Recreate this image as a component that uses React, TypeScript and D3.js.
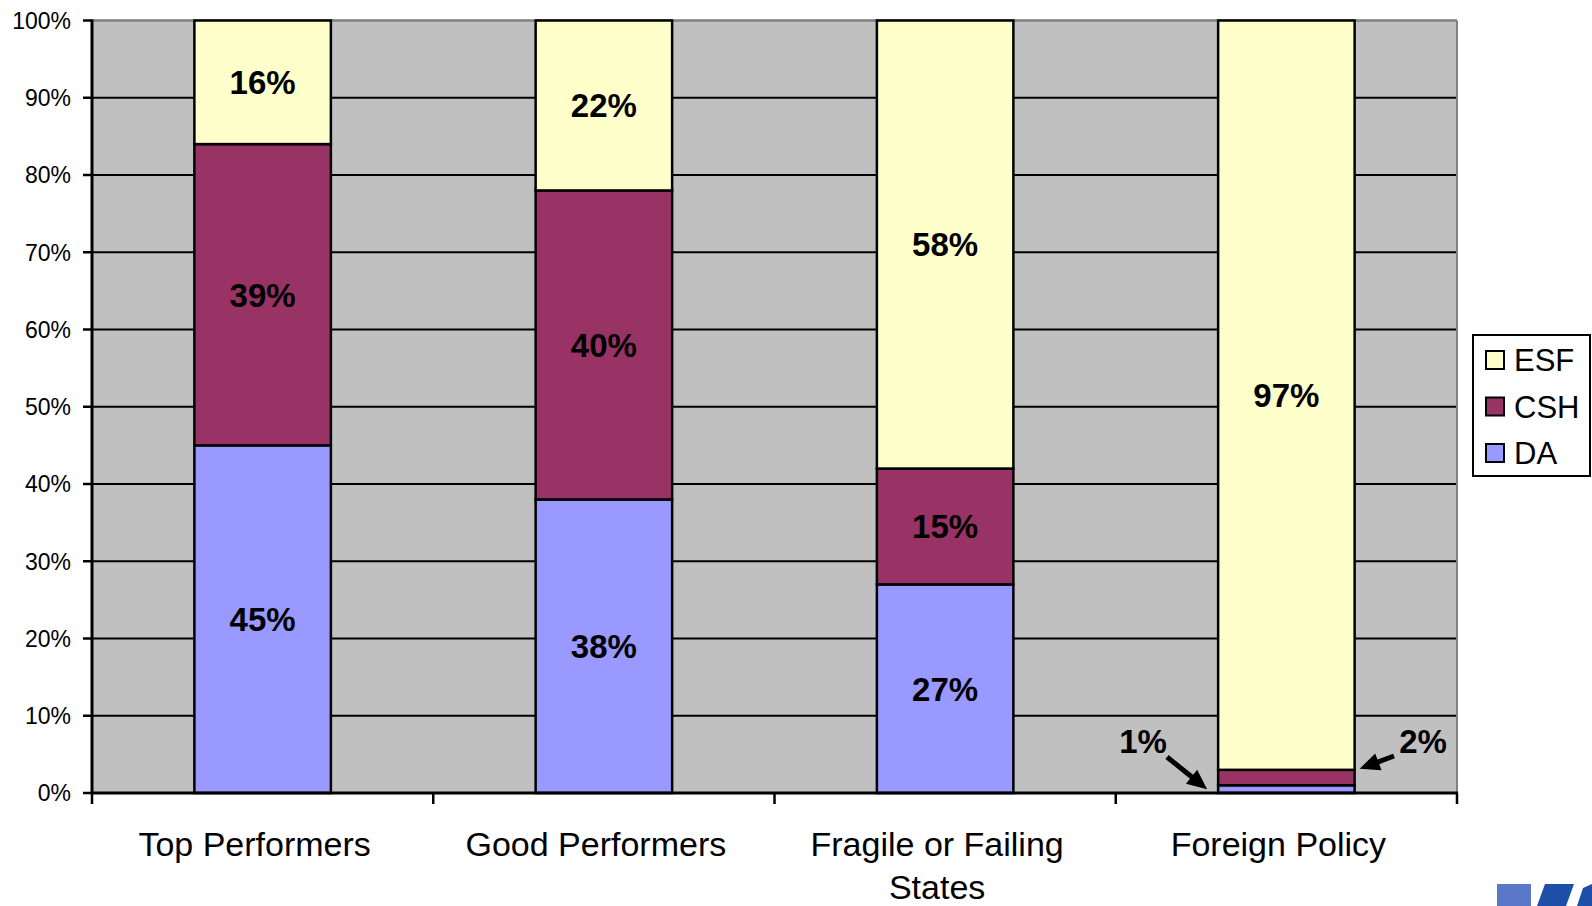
import React from "react";
import * as d3 from "d3";

// Share of funding by account, per country category (percent)
const categories = ["Top Performers", "Good Performers", "Fragile or Failing States", "Foreign Policy"];
const categoryLines: string[][] = [["Top Performers"], ["Good Performers"], ["Fragile or Failing", "States"], ["Foreign Policy"]];
const seriesKeys = ["DA", "CSH", "ESF"];
const daValues = [45, 38, 27, 1];
const cshValues = [39, 40, 15, 2];
const esfValues = [16, 22, 58, 97];
const yTicks = [0, 10, 20, 30, 40, 50, 60, 70, 80, 90, 100];
const legendOrder = ["ESF", "CSH", "DA"];

const colors: Record<string, string> = {
  DA: "#9999FF",
  CSH: "#993366",
  ESF: "#FFFFCC",
};

const W = 1592;
const H = 906;
const plot = { left: 92, right: 1457, top: 20.5, bottom: 793 };
const FONT = "'Liberation Sans', Arial, Helvetica, sans-serif";

type Row = { category: string; DA: number; CSH: number; ESF: number };

export default function App() {
  const rows: Row[] = categories.map((c, i) => ({
    category: c,
    DA: daValues[i],
    CSH: cshValues[i],
    ESF: esfValues[i],
  }));

  const x = d3
    .scaleBand<string>()
    .domain(categories)
    .range([plot.left, plot.right])
    .paddingInner(0.6)
    .paddingOuter(0.3);
  const y = d3.scaleLinear().domain([0, 100]).range([plot.bottom, plot.top]);

  const stacked = d3.stack<Row>().keys(seriesKeys)(rows);
  const step = x.step();
  const bw = x.bandwidth();

  // Small segments of the last bar get callout labels with arrows
  const fpIdx = 3;
  const fpX = x(categories[fpIdx])!;
  const daTop = stacked[0][fpIdx][1];
  const cshTop = stacked[1][fpIdx][1];

  const arrow = (x1: number, y1: number, x2: number, y2: number) => {
    const ang = Math.atan2(y2 - y1, x2 - x1);
    const len = 20;
    const half = 9;
    const bx = x2 - len * Math.cos(ang);
    const by = y2 - len * Math.sin(ang);
    const px = -Math.sin(ang) * half;
    const py = Math.cos(ang) * half;
    return (
      <g>
        <line x1={x1} y1={y1} x2={bx + 2 * Math.cos(ang)} y2={by + 2 * Math.sin(ang)} stroke="#000" strokeWidth={5} />
        <polygon points={`${x2},${y2} ${bx + px},${by + py} ${bx - px},${by - py}`} fill="#000" />
      </g>
    );
  };

  return (
    <svg
      width={W}
      height={H}
      style={{ position: "absolute", left: 0, top: 0, background: "#fff" }}
      fontFamily={FONT}
    >
      {/* plot background */}
      <rect x={plot.left} y={plot.top} width={plot.right - plot.left} height={plot.bottom - plot.top} fill="#C0C0C0" />

      {/* gridlines */}
      {yTicks.slice(1, -1).map((t) => (
        <line key={t} x1={plot.left} x2={plot.right} y1={y(t)} y2={y(t)} stroke="#000" strokeWidth={2} />
      ))}
      <line x1={plot.left} x2={plot.right} y1={y(100)} y2={y(100)} stroke="#808080" strokeWidth={2.5} />
      <line x1={plot.right} x2={plot.right} y1={plot.top} y2={plot.bottom} stroke="#808080" strokeWidth={2} />

      {/* stacked bars */}
      {stacked.map((layer) =>
        layer.map((d, i) => (
          <rect
            key={layer.key + i}
            x={x(categories[i])!}
            y={y(d[1])}
            width={bw}
            height={y(d[0]) - y(d[1])}
            fill={colors[layer.key]}
            stroke="#000"
            strokeWidth={2.5}
          />
        ))
      )}

      {/* segment labels */}
      {stacked.map((layer) =>
        layer.map((d, i) => {
          const v = d[1] - d[0];
          if (v < 5) return null;
          return (
            <text
              key={"l" + layer.key + i}
              x={x(categories[i])! + bw / 2}
              y={y((d[0] + d[1]) / 2)}
              dy="0.36em"
              textAnchor="middle"
              fontWeight="bold"
              fontSize={33}
              fill="#000"
            >
              {`${Math.round(v)}%`}
            </text>
          );
        })
      )}

      {/* callouts for thin segments */}
      <text x={1143} y={753} textAnchor="middle" fontWeight="bold" fontSize={33}>
        {`${daValues[fpIdx]}%`}
      </text>
      {arrow(1167, 757, fpX - 11, y(daTop) + 4)}
      <text x={1423} y={753} textAnchor="middle" fontWeight="bold" fontSize={33}>
        {`${cshValues[fpIdx]}%`}
      </text>
      {arrow(1394, 756, fpX + bw + 5, y(cshTop) - 1)}

      {/* y axis */}
      <line x1={plot.left} x2={plot.left} y1={plot.top - 1} y2={plot.bottom} stroke="#000" strokeWidth={3} />
      {yTicks.map((t) => (
        <g key={"t" + t}>
          <line x1={plot.left - 9} x2={plot.left} y1={y(t)} y2={y(t)} stroke="#000" strokeWidth={2.5} />
          <text x={71} y={y(t)} dy="0.36em" textAnchor="end" fontSize={23} fill="#000">
            {`${t}%`}
          </text>
        </g>
      ))}

      {/* x axis */}
      <line x1={plot.left - 1} x2={plot.right + 1} y1={plot.bottom} y2={plot.bottom} stroke="#000" strokeWidth={3} />
      {d3.range(categories.length + 1).map((k) => (
        <line
          key={"xt" + k}
          x1={plot.left + k * step}
          x2={plot.left + k * step}
          y1={plot.bottom}
          y2={plot.bottom + 11}
          stroke="#000"
          strokeWidth={2.5}
        />
      ))}
      {categories.map((c, i) =>
        categoryLines[i].map((line, j) => (
          <text
            key={c + j}
            x={x(c)! + bw / 2 - 8}
            y={856 + j * 43}
            textAnchor="middle"
            fontSize={34}
            fill="#000"
          >
            {line}
          </text>
        ))
      )}

      {/* legend */}
      <rect x={1473} y={335} width={117} height={141} fill="#fff" stroke="#000" strokeWidth={2} />
      {legendOrder.map((k, i) => {
        const cy = 360 + i * 46.5;
        return (
          <g key={"lg" + k}>
            <rect x={1486} y={cy - 9} width={18} height={18} fill={colors[k]} stroke="#000" strokeWidth={2} />
            <text x={1514} y={cy} dy="0.36em" fontSize={31} fill="#000">
              {k}
            </text>
          </g>
        );
      })}

      {/* corner logo fragment */}
      <g>
        <rect x={1497} y={884} width={34} height={22} fill="#5b78c8" />
        <polygon points="1545,884 1574,884 1566,906 1537,906" fill="#1d4fa8" />
        <polygon points="1583,888 1592,884 1592,906 1577,906" fill="#1d4fa8" />
      </g>
    </svg>
  );
}
